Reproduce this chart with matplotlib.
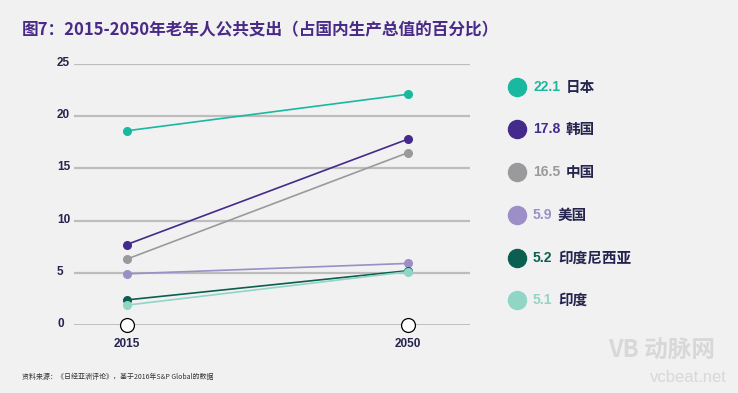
import matplotlib
matplotlib.use("Agg")
import matplotlib.pyplot as plt

plt.rcParams['font.family'] = ['Noto Sans CJK SC', 'DejaVu Sans']

# data
years = ["2015", "2050"]
countries = ["日本", "韩国", "中国", "美国", "印度尼西亚", "印度"]
v2015 = [18.6, 7.7, 6.3, 4.9, 2.4, 1.9]
v2050 = [22.1, 17.8, 16.5, 5.9, 5.2, 5.1]
colors = ["#19b9a0", "#432a8c", "#9a9a9d", "#9c8ec6", "#0b5e50", "#90d5c6"]
yticks = [0, 5, 10, 15, 20, 25]

bg = "#f1f1f1"
navy = "#24244f"

fig = plt.figure(figsize=(7.38, 3.93), dpi=100, facecolor=bg)
ax = fig.add_axes([74 / 738, 68 / 393, 396 / 738, 261 / 393], facecolor=bg)

for tk in yticks[1:]:
    ax.axhline(tk, color="#bdbdbd", lw=1.6, zorder=1)
ax.axhline(0, color="black", lw=1.0, zorder=2)

xs = [0, 1]
for i in range(len(countries)):
    ax.plot(xs, [v2015[i], v2050[i]], color=colors[i], lw=1.2, marker="o",
            ms=5.5, zorder=3)

# hollow circles on the zero line
ax.plot(xs, [0, 0], ls="none", marker="o", ms=10, mfc="white", mec="black",
        mew=0.9, clip_on=False, zorder=4)

ax.set_xlim(-0.187, 1.221)
ax.set_ylim(0, 25)
for s in ax.spines.values():
    s.set_visible(False)
ax.set_xticks([])
ax.set_yticks([])

for tk in yticks:
    fig.text(57 / 738, 1 - (325 - tk * 10.44 - 1) / 393, str(tk), ha="left",
             va="center", fontsize=8.5, fontweight="bold", color=navy,
             family="Liberation Sans")
for x, lab in zip(xs, years):
    ax.annotate(lab, xy=(x, 0), xycoords="data", xytext=(0, -14),
                textcoords="offset points", ha="center", va="center",
                fontsize=8.5, fontweight="bold", color=navy,
                family="Liberation Sans")

# legend on the right
for i in range(len(countries)):
    yy = 1 - (86.7 + i * 42.7) / 393
    fig.lines.append(plt.Line2D([517 / 738], [yy], marker="o", ms=13,
                                color=colors[i], transform=fig.transFigure))
    t = fig.text(533 / 738, yy, f"{v2050[i]}", ha="left", va="center",
                 fontsize=10, fontweight="bold", color=colors[i],
                 family="Liberation Sans")
    ax.annotate(countries[i], xy=(1, 0.5), xycoords=t, xytext=(4, 0),
                textcoords="offset points", ha="left", va="center",
                fontsize=10.5, fontweight="bold", color=navy)

fig.text(22 / 738, 1 - 30 / 393, "图7：2015-2050年老年人公共支出（占国内生产总值的百分比）",
         ha="left", va="center", fontsize=12, fontweight="bold", color="#4a2a88")
fig.text(22 / 738, 1 - 377 / 393, "资料来源：《日经亚洲评论》，基于2016年S&P Global的数据",
         ha="left", va="center", fontsize=5, color="#333333")

# watermark
fig.text(662 / 738, 1 - 350 / 393, "VB 动脉网", ha="center", va="center",
         fontsize=17, color="#d8d8d8", fontweight="bold")
fig.text(688 / 738, 1 - 377 / 393, "vcbeat.net", ha="center", va="center",
         fontsize=12, color="#d8d8d8", family="Liberation Sans")

plt.savefig("out.png", dpi=100, facecolor=bg)
